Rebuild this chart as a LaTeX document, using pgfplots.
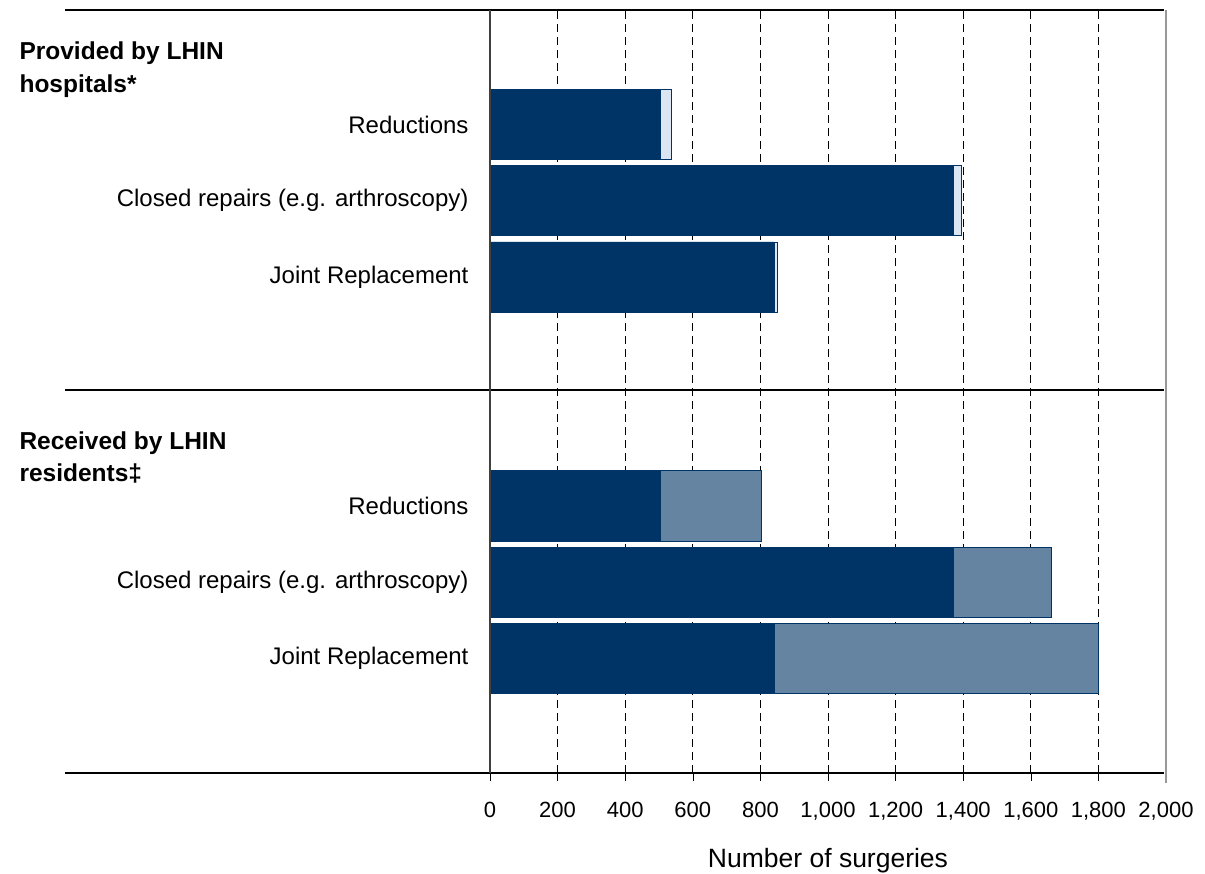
\documentclass[border=0pt]{standalone}
\usepackage{fontspec}
\setmainfont{Liberation Sans}
\usepackage{pgfplots}
\pgfplotsset{compat=1.18}
\definecolor{navy}{RGB}{0,51,102}
\definecolor{paleblue}{RGB}{220,230,242}
\definecolor{slate}{RGB}{101,132,161}
\begin{document}
\begin{tikzpicture}
\useasboundingbox (0,0) rectangle (1205pt,-873pt);
\begin{axis}[
 at={(490pt,-773pt)}, anchor=south west,
 scale only axis, width=676pt, height=763pt,
 xmin=0, xmax=2000, ymin=-0.5, ymax=9.5,
 xtick={0,200,...,2000},
 ytick={8,7,6,3,2,1},
 yticklabels={Reductions, Closed repairs (e.g. arthroscopy), Joint Replacement, Reductions, Closed repairs (e.g. arthroscopy), Joint Replacement},
 xtick pos=left, ytick pos=left,
 tick align=outside,
 major tick length=8pt,
 ytick style={draw=none},
 xtick style={black, line width=0.6pt},
 axis line style={draw=none},
 xmajorgrids,
 major grid style={black, dash pattern=on 8pt off 5pt, line width=0.7pt},
 /pgf/number format/assume math mode=true,
 /pgf/number format/1000 sep={,},
 xticklabel style={font=\fontsize{22}{26}\selectfont, yshift=-18pt},
 yticklabel style={font=\fontsize{24}{28}\selectfont, xshift=-10pt},
 xlabel={Number of surgeries},
 xlabel style={font=\fontsize{26.5}{30}\selectfont, at={(axis description cs:0.5,0)}, anchor=center, yshift=-88pt},
 clip=false,
]
\addplot[xbar, bar width=0.92, bar shift=0pt, fill=paleblue, draw=navy, line width=0.8pt] coordinates {(537,8) (1396,7) (850,6)};
\addplot[xbar, bar width=0.92, bar shift=0pt, fill=slate, draw=navy, line width=0.8pt] coordinates {(804,3) (1660,2) (1800,1)};
\addplot[xbar, bar width=0.92, bar shift=0pt, fill=navy, draw=navy, line width=0.8pt] coordinates {(504,8) (1370,7) (840,6) (504,3) (1370,2) (840,1)};
\end{axis}
\draw[black, line width=1.3pt] (65pt,-10pt) -- (1164pt,-10pt);
\draw[black, line width=1.3pt] (65pt,-390pt) -- (1164pt,-390pt);
\draw[black, line width=1.8pt] (65pt,-773pt) -- (1164pt,-773pt);
\draw[black!75, line width=1.3pt] (490pt,-10pt) -- (490pt,-773pt);
\draw[black!40, line width=1.3pt] (1166pt,-10pt) -- (1166pt,-783pt);
\node[anchor=base west, align=left, font=\bfseries\fontsize{24.5}{33}\selectfont] at (16pt,-92pt) {Provided by LHIN\\hospitals*};
\node[anchor=base west, align=left, font=\bfseries\fontsize{24.5}{32}\selectfont] at (16pt,-481pt) {Received by LHIN\\residents‡};
\end{tikzpicture}
\end{document}
